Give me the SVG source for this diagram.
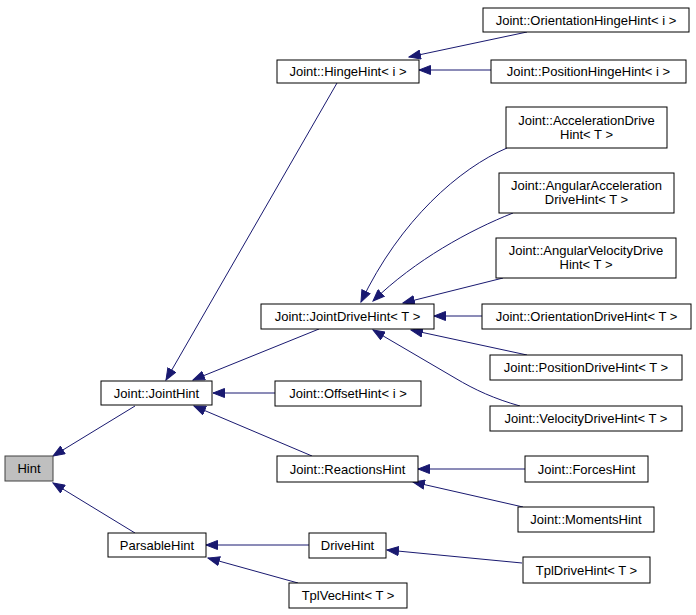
<svg xmlns="http://www.w3.org/2000/svg" width="696" height="615" viewBox="0 0 696 615">
<style>
.n rect{fill:#ffffff;stroke:#000000;stroke-width:1}
.n text{font-family:"Liberation Sans",Arial,sans-serif;font-size:13px;fill:#000000;text-anchor:middle}
#hint rect{fill:#bfbfbf;stroke:#404040}
#edges path{fill:none;stroke:#191970;stroke-width:1;marker-end:url(#arr)}
</style>
<defs>
<marker id="arr" markerWidth="13" markerHeight="10" refX="12" refY="5" orient="auto" markerUnits="userSpaceOnUse">
<path d="M0.5,0.5 L12,5 L0.5,9.5 z" fill="#191970" stroke="#191970" stroke-width="1"/>
</marker>
</defs>
<rect width="696" height="615" fill="#ffffff"/>
<g id="edges">
<path d="M135,406 L53,456"/>
<path d="M135,533 L53,483"/>
<path d="M337,83 L166,380"/>
<path d="M319,329 L193,380"/>
<path d="M275,393 L213,393"/>
<path d="M312,456 L194,406"/>
<path d="M527,32 L409,57"/>
<path d="M491,70 L419,70"/>
<path d="M507,148 C460,168 400,220 361,302"/>
<path d="M513,213 C470,230 415,260 373,301"/>
<path d="M503,278 L403,303"/>
<path d="M482,316 L434,316"/>
<path d="M527,355 L411,330"/>
<path d="M520,406 C495,399 475,390 455,378 L373,330"/>
<path d="M525,469 L418,469"/>
<path d="M523,507 L413,482"/>
<path d="M309,545 L206,545"/>
<path d="M298,583 L208,558"/>
<path d="M522,563 L387,550"/>
</g>
<g id="hint" class="n"><rect x="5" y="456" width="48" height="25"/><text x="29" y="473">Hint</text></g>
<g id="jointhint" class="n"><rect x="101" y="381" width="111" height="24"/><text x="156.5" y="397.5">Joint::JointHint</text></g>
<g id="parsablehint" class="n"><rect x="108" y="533" width="98" height="24"/><text x="157" y="549.5">ParsableHint</text></g>
<g id="hingehint" class="n"><rect x="277" y="60" width="142" height="23"/><text x="348" y="76">Joint::HingeHint&lt; i &gt;</text></g>
<g id="orientationhingehint" class="n"><rect x="483" y="8" width="206" height="24"/><text x="586" y="24.5">Joint::OrientationHingeHint&lt; i &gt;</text></g>
<g id="positionhingehint" class="n"><rect x="491" y="60" width="195" height="23"/><text x="588.5" y="76">Joint::PositionHingeHint&lt; i &gt;</text></g>
<g id="accelerationdrivehint" class="n"><rect x="506" y="107" width="161" height="41"/><text x="586.5" y="124.5">Joint::AccelerationDrive</text><text x="586.5" y="138.5">Hint&lt; T &gt;</text></g>
<g id="angularaccelerationdrivehint" class="n"><rect x="499" y="173" width="175" height="40"/><text x="586.5" y="189.5">Joint::AngularAcceleration</text><text x="586.5" y="203.5">DriveHint&lt; T &gt;</text></g>
<g id="angularvelocitydrivehint" class="n"><rect x="496" y="238" width="180" height="40"/><text x="586" y="254.5">Joint::AngularVelocityDrive</text><text x="586" y="268.5">Hint&lt; T &gt;</text></g>
<g id="jointdrivehint" class="n"><rect x="261" y="304" width="173" height="25"/><text x="347.5" y="321">Joint::JointDriveHint&lt; T &gt;</text></g>
<g id="orientationdrivehint" class="n"><rect x="482" y="304" width="209" height="25"/><text x="586.5" y="321">Joint::OrientationDriveHint&lt; T &gt;</text></g>
<g id="positiondrivehint" class="n"><rect x="490" y="355" width="192" height="25"/><text x="586" y="372">Joint::PositionDriveHint&lt; T &gt;</text></g>
<g id="offsethint" class="n"><rect x="275" y="381" width="146" height="25"/><text x="348" y="398">Joint::OffsetHint&lt; i &gt;</text></g>
<g id="velocitydrivehint" class="n"><rect x="490" y="406" width="192" height="25"/><text x="586" y="423">Joint::VelocityDriveHint&lt; T &gt;</text></g>
<g id="reactionshint" class="n"><rect x="277" y="456" width="141" height="26"/><text x="347.5" y="473.5">Joint::ReactionsHint</text></g>
<g id="forceshint" class="n"><rect x="525" y="456" width="123" height="26"/><text x="586.5" y="473.5">Joint::ForcesHint</text></g>
<g id="momentshint" class="n"><rect x="518" y="507" width="136" height="25"/><text x="586" y="524">Joint::MomentsHint</text></g>
<g id="drivehint" class="n"><rect x="309" y="533" width="77" height="25"/><text x="347.5" y="550">DriveHint</text></g>
<g id="tpldrivehint" class="n"><rect x="523" y="557" width="127" height="26"/><text x="586.5" y="574.5">TplDriveHint&lt; T &gt;</text></g>
<g id="tplvechint" class="n"><rect x="289" y="583" width="118" height="25"/><text x="348" y="600">TplVecHint&lt; T &gt;</text></g>
</svg>
